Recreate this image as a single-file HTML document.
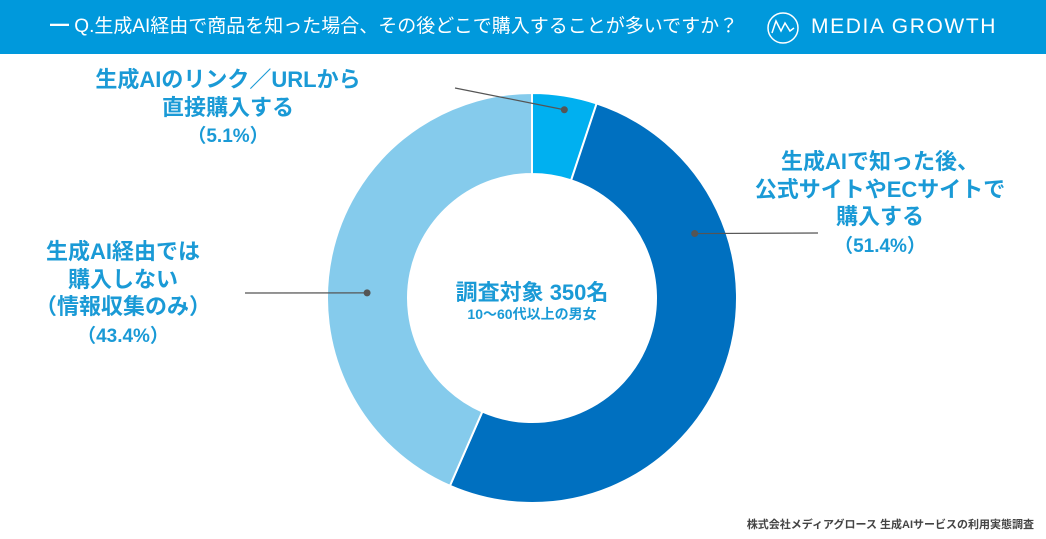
<!DOCTYPE html>
<html><head><meta charset="utf-8"><style>
body{margin:0;width:1046px;height:539px;background:#fff;overflow:hidden;font-family:"Liberation Sans","Noto Sans CJK JP",sans-serif;}
.hdr{position:absolute;left:0;top:0;width:1046px;height:54px;background:#0099dc;}
.lbl{position:absolute;color:#1a9ad6;font-weight:bold;text-align:center;font-size:22px;line-height:27.5px;white-space:nowrap;}
.pct{font-size:19px;}
</style></head><body>
<div class="hdr">
  <div style="position:absolute;left:50px;top:15px;color:#fff;font-size:19px;line-height:24px;white-space:nowrap;"><span style="font-weight:bold">━</span>&nbsp;Q.生成AI経由で商品を知った場合、その後どこで購入することが多いですか？</div>
  <svg width="34" height="34" style="position:absolute;left:766px;top:11px" viewBox="0 0 34 34"><circle cx="17" cy="17" r="15" fill="none" stroke="#fff" stroke-width="1.5"/><path d="M6 22 L10 10 L15 20 L19 12 L24 20 L28 17" fill="none" stroke="#fff" stroke-width="1.5"/></svg>
  <div style="position:absolute;left:811px;top:14px;color:#fff;font-size:21px;letter-spacing:1.6px;line-height:26px;">MEDIA GROWTH</div>
</div>
<svg id="chart" width="1046" height="539" style="position:absolute;left:0;top:0"></svg>
<div class="lbl" style="left:68px;top:66px;width:320px">生成AIのリンク／URLから<br>直接購入する<br><span class="pct">（5.1%）</span></div>
<div class="lbl" style="left:720px;top:148px;width:320px">生成AIで知った後、<br>公式サイトやECサイトで<br>購入する<br><span class="pct">（51.4%）</span></div>
<div class="lbl" style="left:-37px;top:238px;width:320px">生成AI経由では<br>購入しない<br>（情報収集のみ）<br><span class="pct">（43.4%）</span></div>
<div class="lbl" style="left:432px;top:279px;width:200px;font-size:22px;line-height:27px">調査対象 350名</div>
<div class="lbl" style="left:432px;top:305px;width:200px;font-size:14px;line-height:18px">10〜60代以上の男女</div>
<div style="position:absolute;right:12px;top:516px;font-size:11px;font-weight:bold;color:#444;white-space:nowrap">株式会社メディアグロース 生成AIサービスの利用実態調査</div>
<script>
const categories=['direct-link','official-site','no-purchase'];
const values=[5.1,51.4,43.4];
const colors=['#00b0f0','#0070c0','#85cbec'];
const leaderEnds=[[455,88],[818,233],[245,293]];
const dotFrac=[0.53,0.27,0.436];
const dotRad=[191,175,165];
const svg=document.getElementById('chart');
const NS='http://www.w3.org/2000/svg';
const cx=532,cy=298,R=205,r=124;
const total=values.reduce((a,b)=>a+b,0);
function pt(a,rad){return [cx+rad*Math.sin(a),cy-rad*Math.cos(a)];}
let a0=0;
values.forEach((v,i)=>{
  const a1=a0+v/total*2*Math.PI;
  const large=(a1-a0)>Math.PI?1:0;
  const p1=pt(a0,R),p2=pt(a1,R),p3=pt(a1,r),p4=pt(a0,r);
  const path=document.createElementNS(NS,'path');
  path.setAttribute('d',`M${p1[0]},${p1[1]} A${R},${R} 0 ${large} 1 ${p2[0]},${p2[1]} L${p3[0]},${p3[1]} A${r},${r} 0 ${large} 0 ${p4[0]},${p4[1]} Z`);
  path.setAttribute('fill',colors[i]);
  path.setAttribute('stroke','#fff');
  path.setAttribute('stroke-width','2');
  
  
  svg.appendChild(path);
  a0=a1;
});
a0=0;
values.forEach((v,i)=>{
  const span=v/total*2*Math.PI;
  const am=a0+span*dotFrac[i];a0+=span;
  const d=pt(am,dotRad[i]);
  const ln=document.createElementNS(NS,'line');
  ln.setAttribute('x1',d[0]);ln.setAttribute('y1',d[1]);
  ln.setAttribute('x2',leaderEnds[i][0]);ln.setAttribute('y2',leaderEnds[i][1]);
  ln.setAttribute('stroke','#555');ln.setAttribute('stroke-width','1.2');
  
  
  svg.appendChild(ln);
  const c=document.createElementNS(NS,'circle');
  c.setAttribute('cx',d[0]);c.setAttribute('cy',d[1]);c.setAttribute('r','3.5');c.setAttribute('fill','#555');
  
  
  svg.appendChild(c);
});
</script>
</body></html>
